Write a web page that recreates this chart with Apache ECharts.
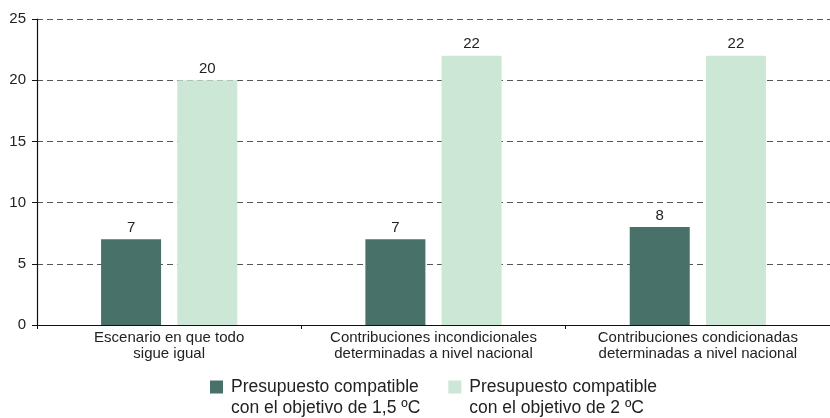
<!DOCTYPE html>
<html>
<head>
<meta charset="utf-8">
<script src="https://cdn.jsdelivr.net/npm/echarts@6/dist/echarts.min.js"></script>
<style>
  html, body { margin: 0; padding: 0; background: #fff; }
  #chart { width: 830px; height: 418px; }
</style>
</head>
<body>
<div id="chart"></div>
<script>
var chartDom = document.getElementById('chart');
var myChart = echarts.init(chartDom);
var option;

const categories = [
  'Escenario en que todo\nsigue igual',
  'Contribuciones incondicionales\ndeterminadas a nivel nacional',
  'Contribuciones condicionadas\ndeterminadas a nivel nacional'
];
const seriesNames = [
  'Presupuesto compatible\ncon el objetivo de 1,5 ºC',
  'Presupuesto compatible\ncon el objetivo de 2 ºC'
];
const values15 = [7, 7, 8];
const values2 = [20, 22, 22];

const font = 'Liberation Sans, Arial, sans-serif';

option = {
  animation: false,
  textStyle: { fontFamily: font },
  grid: {
    left: 37,
    right: -4,
    top: 19,
    bottom: 93
  },
  legend: {
    left: 205,
    top: 352,
    itemWidth: 13,
    itemHeight: 13,
    itemGap: 28,
    icon: 'rect',
    // blank first line so the icon sits beside the first text line
    formatter: function (name) {
      const parts = name.split('\n');
      return '{e| }\n{t|' + parts[0] + '}\n{t|' + parts[1] + '}';
    },
    textStyle: {
      fontFamily: font,
      color: '#222',
      rich: {
        e: { fontSize: 17.5, lineHeight: 21 },
        t: { fontSize: 17.5, lineHeight: 21, padding: [0, 0, 0, 3], color: '#222', fontFamily: font }
      }
    },
    data: seriesNames
  },
  xAxis: {
    type: 'category',
    data: categories,
    axisLine: { lineStyle: { color: '#111', width: 1.2 } },
    axisTick: { show: true, length: 4, lineStyle: { color: '#111' } },
    axisLabel: {
      color: '#222',
      fontSize: 15,
      lineHeight: 16,
      margin: 5,
      interval: 0
    }
  },
  yAxis: {
    type: 'value',
    min: 0,
    max: 25,
    interval: 5,
    axisLine: { show: true, lineStyle: { color: '#111', width: 1.2 } },
    axisTick: { show: true, length: 5, lineStyle: { color: '#111' } },
    axisLabel: { color: '#222', fontSize: 15, margin: 11 },
    splitLine: {
      lineStyle: { color: '#555', type: [6, 4], width: 1 }
    }
  },
  series: [
    {
      name: seriesNames[0],
      type: 'bar',
      data: values15,
      barWidth: 60,
      barGap: '27%',
      itemStyle: { color: '#48716a' },
      label: { show: true, position: 'top', color: '#222', fontSize: 15, distance: 4 }
    },
    {
      name: seriesNames[1],
      type: 'bar',
      data: values2,
      barWidth: 60,
      itemStyle: { color: '#cde7d7' },
      label: { show: true, position: 'top', color: '#222', fontSize: 15, distance: 4 }
    }
  ]
};

option && myChart.setOption(option);
</script>
</body>
</html>
